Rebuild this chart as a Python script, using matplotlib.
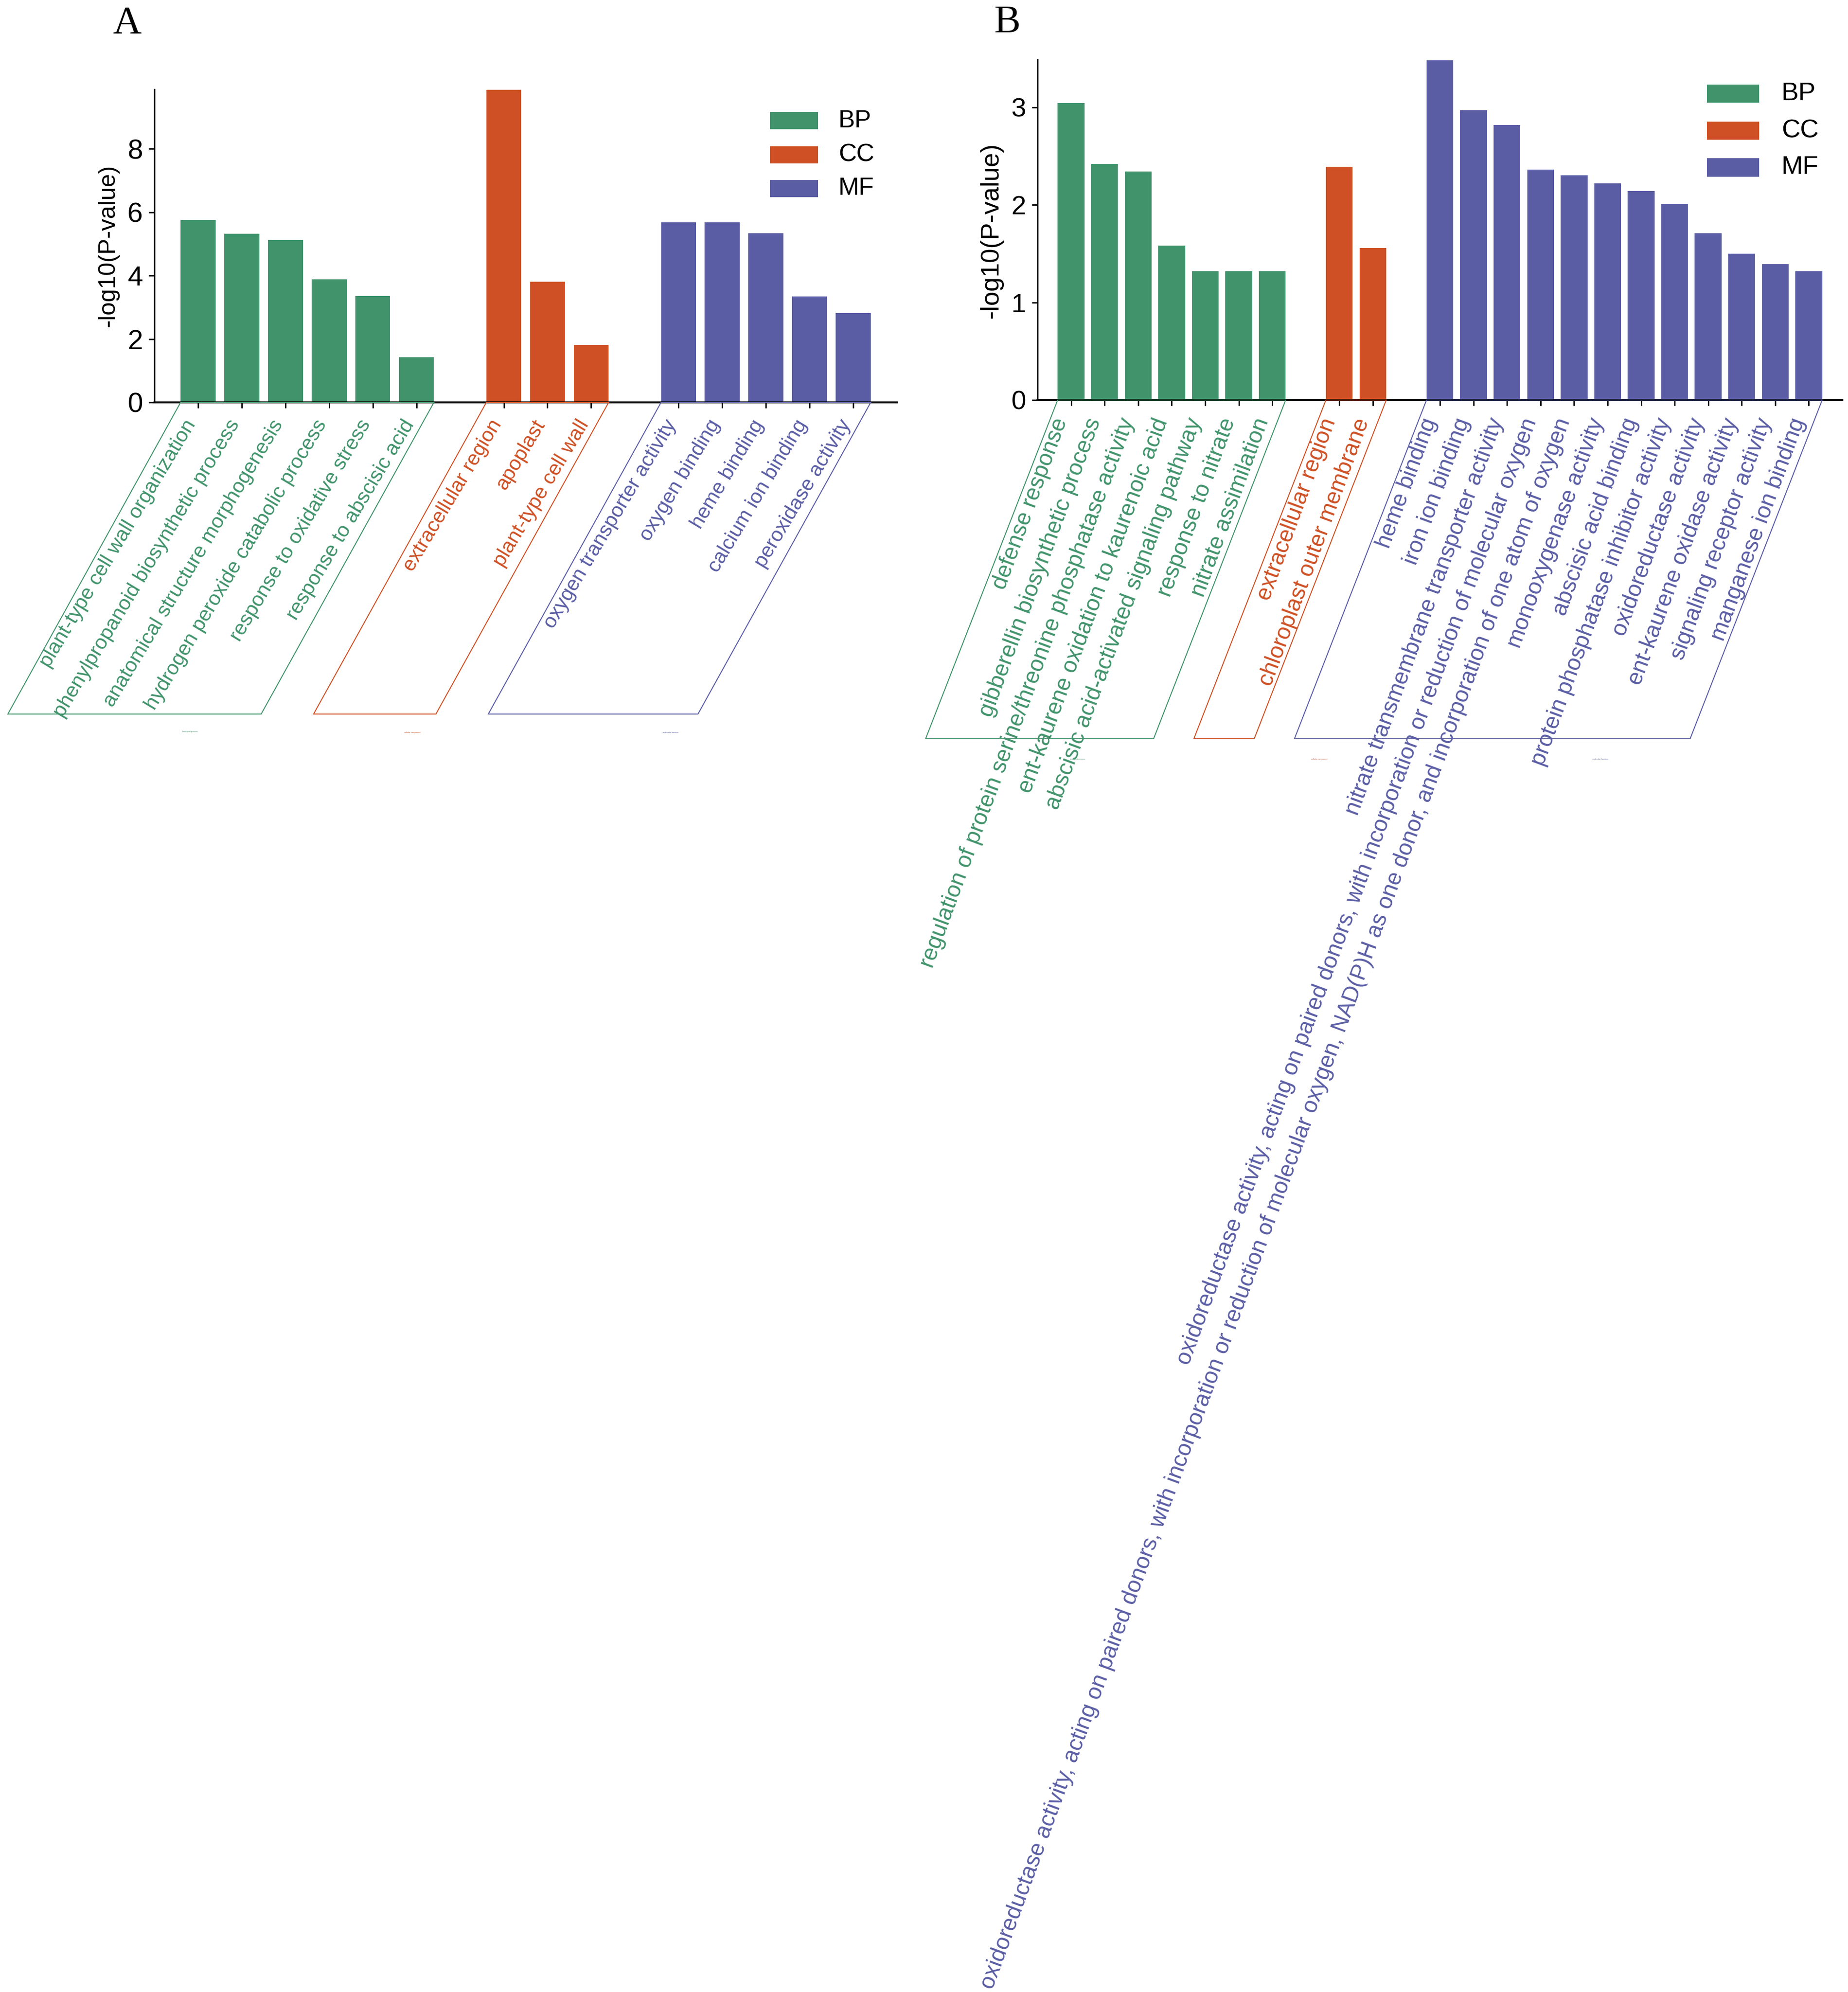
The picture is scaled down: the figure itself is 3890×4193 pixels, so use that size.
import numpy as np
import matplotlib.pyplot as plt
from matplotlib.patches import Polygon, Rectangle

W, H = 3890, 4193
DPI = 300

# ---- panel A data ----
a_bp_terms = ["plant-type cell wall organization", "phenylpropanoid biosynthetic process",
              "anatomical structure morphogenesis", "hydrogen peroxide catabolic process",
              "response to oxidative stress", "response to abscisic acid"]
a_bp_vals = [5.76, 5.32, 5.12, 3.88, 3.36, 1.42]
a_cc_terms = ["extracellular region", "apoplast", "plant-type cell wall"]
a_cc_vals = [9.86, 3.81, 1.81]
a_mf_terms = ["oxygen transporter activity", "oxygen binding", "heme binding",
              "calcium ion binding", "peroxidase activity"]
a_mf_vals = [5.68, 5.68, 5.33, 3.34, 2.82]

# ---- panel B data ----
b_bp_terms = ["defense response", "gibberellin biosynthetic process",
              "regulation of protein serine/threonine phosphatase activity",
              "ent-kaurene oxidation to kaurenoic acid",
              "abscisic acid-activated signaling pathway", "response to nitrate",
              "nitrate assimilation"]
b_bp_vals = [3.04, 2.42, 2.34, 1.58, 1.32, 1.32, 1.32]
b_cc_terms = ["extracellular region", "chloroplast outer membrane"]
b_cc_vals = [2.39, 1.56]
b_mf_terms = ["heme binding", "iron ion binding", "nitrate transmembrane transporter activity",
              "oxidoreductase activity, acting on paired donors, with incorporation or reduction of molecular oxygen",
              "oxidoreductase activity, acting on paired donors, with incorporation or reduction of molecular oxygen, NAD(P)H as one donor, and incorporation of one atom of oxygen",
              "monooxygenase activity", "abscisic acid binding",
              "protein phosphatase inhibitor activity", "oxidoreductase activity",
              "ent-kaurene oxidase activity", "signaling receptor activity",
              "manganese ion binding"]
b_mf_vals = [3.48, 2.97, 2.82, 2.36, 2.30, 2.22, 2.14, 2.01, 1.71, 1.50, 1.39, 1.32]

categories = ["BP", "CC", "MF"]
tiny_names = ["biological process", "cellular component", "molecular function"]
colors = {"BP": "#40936b", "CC": "#ce5024", "MF": "#5a5da4"}

plt.rcParams.update({
    "font.family": "Liberation Sans",
    "axes.linewidth": 0.8,
    "figure.facecolor": "white",
    "savefig.facecolor": "white",
})

fig = plt.figure(figsize=(W / DPI, H / DPI), dpi=DPI)


def px_rect(l, t, r, b):
    return [l / W, 1 - b / H, (r - l) / W, (b - t) / H]


def fx(x, y):
    return x / W, 1 - y / H


def draw_panel(rect, groups, ylim, yticks, angle, box_angle, depth, tick_fs, label_fs,
               tiny_pos, letter, letter_pos, ylab_pos, ylab_fs, legend_x, legend_rows,
               legend_h, legend_fs, label_off=(-3.3, -9.6)):
    ax = fig.add_axes(rect)
    start = 0
    all_x = []
    spans = []
    for cat, terms, vals in groups:
        xs = np.arange(start, start + len(vals))
        ax.bar(xs, vals, width=0.8, color=colors[cat], zorder=2)
        spans.append((cat, terms, xs))
        all_x.extend(xs)
        start = xs[-1] + 2
    ax.set_xlim(-1, all_x[-1] + 1)
    ax.set_ylim(*ylim)
    ax.set_yticks(yticks)
    ax.set_xticks(all_x)
    ax.set_xticklabels([])
    ax.spines["top"].set_visible(False)
    ax.spines["right"].set_visible(False)
    ax.spines["left"].set_linewidth(0.7)
    ax.spines["bottom"].set_linewidth(1.0)
    ax.tick_params(axis="both", direction="out", length=2.8, width=0.7,
                   labelsize=tick_fs, pad=3)

    # slanted category labels inside a parallelogram frame per group
    inv = fig.transFigure.inverted()
    off = depth / np.tan(np.radians(box_angle))
    for (cat, terms, xs), tp in zip(spans, tiny_pos):
        c = colors[cat]
        for xi, t in zip(xs, terms):
            ax.annotate(t, xy=(xi, 0), xycoords=("data", "axes fraction"),
                        xytext=label_off, textcoords="offset points",
                        rotation=angle, rotation_mode="anchor",
                        ha="right", va="center", color=c, fontsize=label_fs,
                        annotation_clip=False)
        lx, ty = ax.transData.transform((xs[0] - 0.4, 0))
        rx, _ = ax.transData.transform((xs[-1] + 0.4, 0))
        pts = [(lx, ty), (rx, ty), (rx - off, ty - depth), (lx - off, ty - depth)]
        pts = inv.transform(pts)
        fig.patches.append(Polygon(pts, closed=True, fill=False, edgecolor=c,
                                   linewidth=0.5, transform=fig.transFigure))
        fig.text(*fx(*tp), tiny_names[categories.index(cat)], color=c,
                 fontsize=1, ha="center", va="center")

    fig.text(*fx(*ylab_pos), "-log10(P-value)", rotation=90, ha="center",
             va="center", fontsize=ylab_fs)
    fig.text(*fx(*letter_pos), letter, family="Liberation Serif", fontsize=20,
             va="baseline", ha="left")

    for cat, yc in zip(categories, legend_rows):
        x0, y0 = fx(legend_x[0], yc + legend_h / 2)
        fig.patches.append(Rectangle((x0, y0), (legend_x[1] - legend_x[0]) / W,
                                     legend_h / H, facecolor=colors[cat],
                                     edgecolor="none", transform=fig.transFigure))
        fig.text(*fx(legend_x[2], yc), cat, fontsize=legend_fs, va="center", ha="left")
    return ax


draw_panel(px_rect(325, 188, 1888, 847),
           [("BP", a_bp_terms, a_bp_vals), ("CC", a_cc_terms, a_cc_vals),
            ("MF", a_mf_terms, a_mf_vals)],
           ylim=(0, 9.88), yticks=[0, 2, 4, 6, 8], angle=59, box_angle=61, depth=656,
           tick_fs=14, label_fs=10.4,
           tiny_pos=[(400, 1540), (868, 1542), (1411, 1542)],
           letter="A", letter_pos=(237, 69), ylab_pos=(228, 517), ylab_fs=12,
           legend_x=(1621, 1722, 1765), legend_rows=(254, 325.5, 397),
           legend_h=36, legend_fs=12.5)

draw_panel(px_rect(2184, 125, 3878, 842),
           [("BP", b_bp_terms, b_bp_vals), ("CC", b_cc_terms, b_cc_vals),
            ("MF", b_mf_terms, b_mf_vals)],
           ylim=(0, 3.49), yticks=[0, 1, 2, 3], angle=69.8, box_angle=68.7, depth=713,
           tick_fs=13.5, label_fs=11.5,
           tiny_pos=[(2268, 1598), (2777, 1598), (3368, 1598)],
           letter="B", letter_pos=(2093, 68), ylab_pos=(2087, 485), ylab_fs=13,
           legend_x=(3593, 3703, 3750), legend_rows=(197, 275, 352.5),
           legend_h=38, legend_fs=13, label_off=(-4.8, -9.6))

fig.savefig("out.png", dpi=DPI)
